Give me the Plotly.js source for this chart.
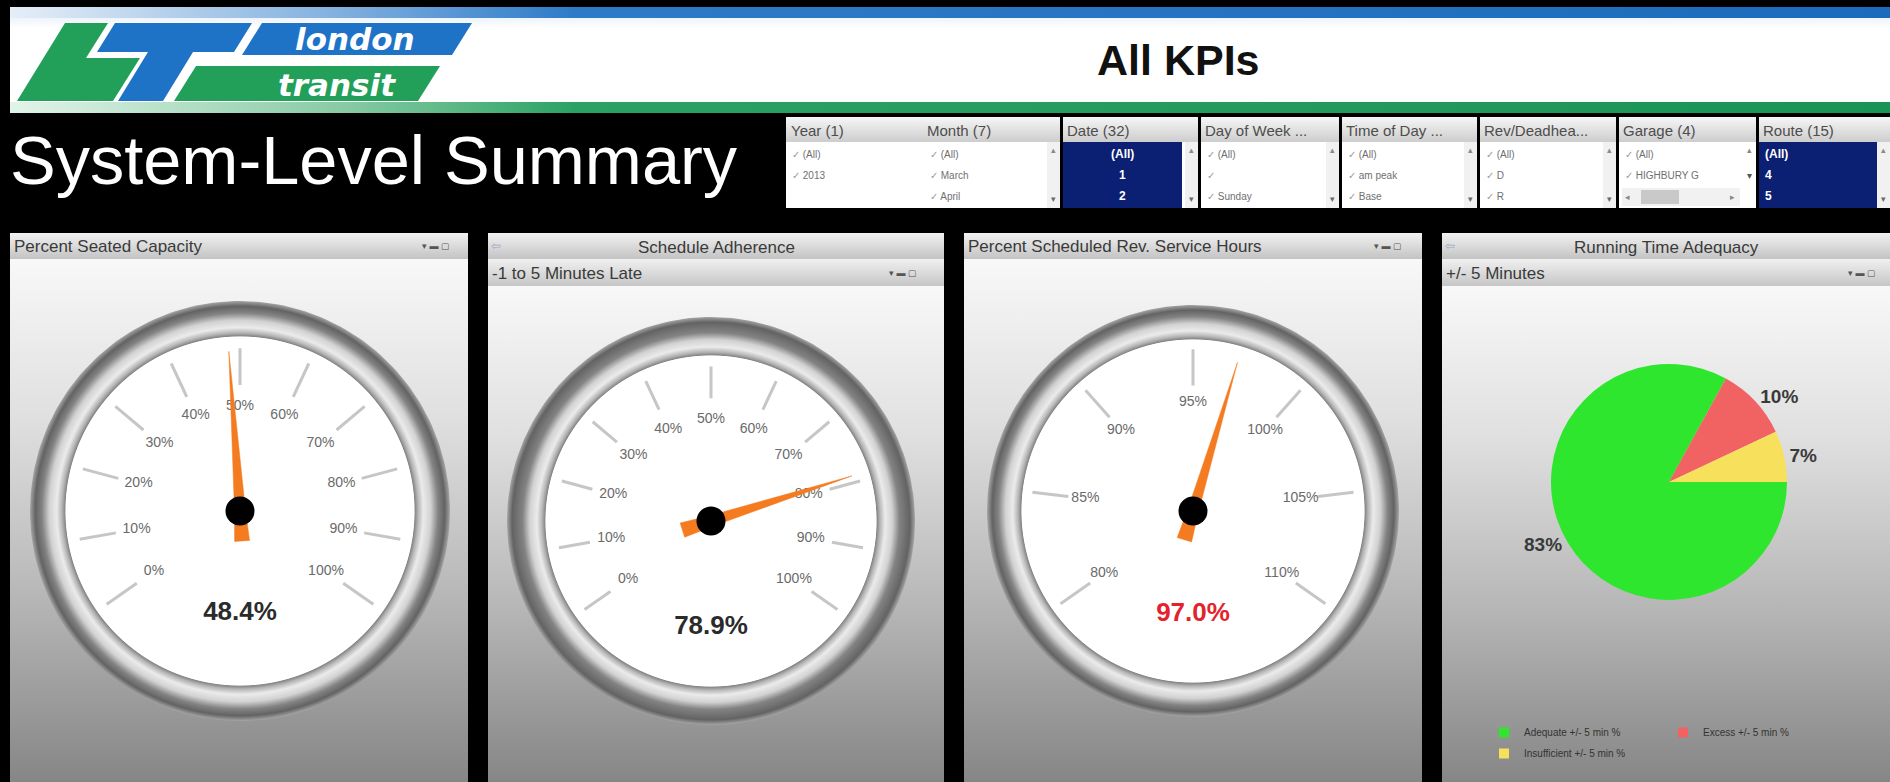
<!DOCTYPE html>
<html>
<head>
<meta charset="utf-8">
<script src="https://cdn.plot.ly/plotly-3.0.1.min.js"></script>
<style>
html,body{margin:0;padding:0;background:#000;overflow:hidden}
#chart{width:1890px;height:782px}
</style>
</head>
<body>
<div id="chart"></div>
<script>
// ---------------- data ----------------
const pageTitle = 'System-Level Summary';
const dashTitle = 'All KPIs';
const logoWords = ['london', 'transit'];

const gaugeTitles = ['Percent Seated Capacity', 'Schedule Adherence', 'Percent Scheduled Rev. Service Hours'];
const gaugeSubtitles = ['', '-1 to 5 Minutes Late', ''];
const gaugeValues = [48.4, 78.9, 97.0];
const seatedTicks = [0, 10, 20, 30, 40, 50, 60, 70, 80, 90, 100];
const adherenceTicks = [0, 10, 20, 30, 40, 50, 60, 70, 80, 90, 100];
const serviceTicks = [80, 85, 90, 95, 100, 105, 110];

const pieTitle = 'Running Time Adequacy';
const pieSubtitle = '+/- 5 Minutes';
const pieLabels = ['Adequate +/- 5 min %', 'Excess +/- 5 min %', 'Insufficient +/- 5 min %'];
const pieValues = [83, 10, 7];

const filterTitles = ['Year (1)', 'Month (7)', 'Date (32)', 'Day of Week ...', 'Time of Day ...', 'Rev/Deadhea...', 'Garage (4)', 'Route (15)'];
const filterItems = [
  ['(All)', '2013'],
  ['(All)', 'March', 'April'],
  ['(All)', '1', '2'],
  ['(All)', '', 'Sunday'],
  ['(All)', 'am peak', 'Base'],
  ['(All)', 'D', 'R'],
  ['(All)', 'HIGHBURY G'],
  ['(All)', '4', '5']
];

// ---------------- helpers ----------------
const W = 1890, H = 782;
const FONT = '"Liberation Sans", Arial, sans-serif';
const traces = [];
const ann = [];

function poly(xs, ys, color, grad) {
  const t = {type: 'scatter', mode: 'lines', x: xs, y: ys, fill: 'toself',
    line: {width: 0, color: 'rgba(0,0,0,0)'}, hoverinfo: 'skip', showlegend: false,
    xaxis: 'x', yaxis: 'y'};
  if (grad) t.fillgradient = grad; else t.fillcolor = color;
  traces.push(t);
}
function rect(x0, y0, x1, y1, color, grad) { poly([x0, x1, x1, x0, x0], [y0, y0, y1, y1, y0], color, grad); }
function circle(cx, cy, r, color, grad) {
  const xs = [], ys = [];
  for (let i = 0; i <= 240; i++) { const a = i * 2 * Math.PI / 240; xs.push(cx + r * Math.cos(a)); ys.push(cy + r * Math.sin(a)); }
  poly(xs, ys, color, grad);
}
// stops given top -> bottom
const vgrad = s => ({type: 'vertical', colorscale: s.map(p => [1 - p[0], p[1]]).reverse()});
const hgrad = s => ({type: 'horizontal', colorscale: s});
function txt(x, y, text, size, color, opts) {
  ann.push(Object.assign({x: x, y: y, xref: 'x', yref: 'y', text: text, showarrow: false,
    font: {size: size, color: color, family: FONT}, xanchor: 'left', yanchor: 'middle'}, opts || {}));
}

// ---------------- page header ----------------
rect(10, 7, 1890, 18, null, hgrad([[0, '#e6eef7'], [0.18, '#7eaede'], [0.3, '#2d7bc8'], [1, '#1c6abb']]));
rect(10, 18, 1890, 102, null, vgrad([[0, '#eef4fa'], [0.12, '#ffffff'], [1, '#ffffff']]));
rect(10, 102, 1890, 113, null, hgrad([[0, '#e2f4e9'], [0.18, '#86caa3'], [0.3, '#2ba263'], [1, '#1a9455']]));

// logo
poly([17, 65, 108, 86, 140, 113, 17], [101, 23, 23, 58, 58, 101, 101], '#22a05a');
poly([115, 252, 234, 193, 163, 118, 148, 97, 115], [23, 23, 52, 52, 101, 101, 52, 52, 23], '#1f73c7');
poly([262, 472, 452, 242, 262], [23, 23, 55, 55, 23], '#1f73c7');
poly([196, 440, 418, 174, 196], [66, 66, 101, 101, 66], '#22a05a');
txt(355, 39, '<b><i>' + logoWords[0] + '</i></b>', 31, '#ffffff', {xanchor: 'center', font: {size: 31, color: '#fff', family: '"DejaVu Sans", sans-serif'}});
txt(337, 85, '<b><i>' + logoWords[1] + '</i></b>', 31, '#ffffff', {xanchor: 'center', font: {size: 31, color: '#fff', family: '"DejaVu Sans", sans-serif'}});

txt(1178, 60, '<b>' + dashTitle + '</b>', 43, '#111111', {xanchor: 'center'});
txt(8, 160, pageTitle, 68.5, '#ffffff');

// ---------------- filter boxes ----------------
const rowsY = [154, 175, 196];
const filterBoxes = [
  {x0: 786, x1: 1060, cols: [{t: 0, tx: 789, ix: 790}, {t: 1, tx: 925, ix: 928}]},
  {x0: 1063, x1: 1198, cols: [{t: 2, tx: 1065, ix: 1122, sel: 'center'}], navy: 1182},
  {x0: 1201, x1: 1339, cols: [{t: 3, tx: 1203, ix: 1205}]},
  {x0: 1342, x1: 1477, cols: [{t: 4, tx: 1344, ix: 1346}]},
  {x0: 1480, x1: 1616, cols: [{t: 5, tx: 1482, ix: 1484}]},
  {x0: 1619, x1: 1756, cols: [{t: 6, tx: 1621, ix: 1623}], hscroll: true},
  {x0: 1759, x1: 1890, cols: [{t: 7, tx: 1761, ix: 1763, sel: 'left'}], navy: 1877}
];
filterBoxes.forEach(b => {
  rect(b.x0, 117, b.x1, 142, null, vgrad([[0, '#f6f6f6'], [1, '#cdcdcd']]));
  rect(b.x0, 142, b.x1, 208, '#ffffff');
  if (b.navy) rect(b.x0, 142, b.navy, 208, '#0b1f73');
  if (!b.hscroll) {
    rect(b.x1 - 13, 142, b.x1, 208, '#f1f1f1');
    txt(b.x1 - 6.5, 150, '▴', 9, '#8a8a8a', {xanchor: 'center'});
    txt(b.x1 - 6.5, 199, '▾', 9, '#6a6a6a', {xanchor: 'center'});
  }
  b.cols.forEach(c => {
    txt(c.tx, 130, filterTitles[c.t], 15, '#4d4d4d');
    filterItems[c.t].forEach((it, r) => {
      if (c.sel === 'center') txt(c.ix, rowsY[r], '<b>' + it + '</b>', 12, '#ffffff', {xanchor: 'center'});
      else if (c.sel === 'left') txt(c.ix, rowsY[r], '<b>' + it + '</b>', 12, '#ffffff');
      else txt(c.ix, rowsY[r], '<span style="color:#9a9a9a">✓</span> ' + it, 10, '#6f6f6f');
    });
  });
  if (b.hscroll) {
    txt(b.x1 - 7, 150, '▴', 9, '#8a8a8a', {xanchor: 'center'});
    txt(b.x1 - 7, 175, '▾', 10, '#555', {xanchor: 'center'});
    rect(b.x0 + 3, 188, b.x1 - 16, 206, '#f1f1f1');
    rect(b.x0 + 22, 190, b.x0 + 60, 204, '#c9c9c9');
    txt(b.x0 + 8, 197, '◂', 9, '#888', {xanchor: 'center'});
    txt(b.x1 - 24, 197, '▸', 9, '#888', {xanchor: 'center'});
  }
});

// ---------------- panels ----------------
const panels = [
  {x0: 10, x1: 468, title: gaugeTitles[0], sub: gaugeSubtitles[0], center: false, icons: 436},
  {x0: 488, x1: 944, title: gaugeTitles[1], sub: gaugeSubtitles[1], center: true, icons: 903},
  {x0: 964, x1: 1422, title: gaugeTitles[2], sub: gaugeSubtitles[2], center: false, icons: 1388},
  {x0: 1442, x1: 1890, title: pieTitle, sub: pieSubtitle, center: true, icons: 1862}
];
panels.forEach(p => {
  rect(p.x0, 233, p.x1, 259, null, vgrad([[0, '#f2f2f2'], [1, '#c3c3c3']]));
  const bodyTop = p.sub ? 286 : 259;
  if (p.sub) rect(p.x0, 259, p.x1, 286, null, vgrad([[0, '#f0f0f0'], [1, '#c6c6c6']]));
  rect(p.x0, bodyTop, p.x1, 782, null, vgrad([[0, '#f8f8f8'], [0.3, '#e0e0e0'], [0.62, '#bababa'], [1, '#868686']]));
  if (p.center) {
    txt((p.x0 + p.x1) / 2, 247, p.title, 17, '#3a3a3a', {xanchor: 'center'});
    txt(p.x0 + 2, 273, p.sub, 17, '#3a3a3a');
    txt(p.x0 + 8, 246, '⇦', 12, '#9aaac8', {xanchor: 'center'});
    txt(p.icons, 273, '▾ ▬ ▢', 9, '#555', {xanchor: 'center'});
  } else {
    txt(p.x0 + 2, 246, p.title, 17, '#3a3a3a');
    txt(p.icons, 246, '▾ ▬ ▢', 9, '#555', {xanchor: 'center'});
  }
});

// ---------------- gauges ----------------
const START = -125, SWEEP = 250;
function angleOf(v, ticks) {
  const lo = ticks[0], hi = ticks[ticks.length - 1];
  return START + SWEEP * (v - lo) / (hi - lo);
}
const gauges = [
  {cx: 240, cy: 511, rf: 175, ro: 210, ticks: seatedTicks, tickR: [0.72, 0.93], labelR: 0.6, valueR: 0.585, vcolor: '#2b2b2b', tip: 160},
  {cx: 711, cy: 521, rf: 166, ro: 204, ticks: adherenceTicks, tickR: [0.74, 0.93], labelR: 0.61, valueR: 0.64, vcolor: '#2b2b2b', tip: 148},
  {cx: 1193, cy: 511, rf: 172, ro: 206, ticks: serviceTicks, tickR: [0.73, 0.94], labelR: 0.63, valueR: 0.6, vcolor: '#e5222b', tip: 155}
];
const polarLayouts = {};
gauges.forEach((g, i) => {
  const f = g.rf / g.ro;
  circle(g.cx, g.cy, g.ro, null, {type: 'radial', colorscale: [
    [0, '#ffffff'], [f - 0.004, '#ffffff'], [f, '#858585'], [f + 0.015, '#b5b5b5'], [f + 0.04, '#ebebeb'],
    [f + 0.075, '#d2d2d2'], [f + 0.11, '#838383'], [0.975, '#636363'], [1, '#a5a5a5']]});
  const key = i === 0 ? 'polar' : 'polar' + (i + 1);
  polarLayouts[key] = {
    domain: {x: [(g.cx - g.rf) / W, (g.cx + g.rf) / W], y: [1 - (g.cy + g.rf) / H, 1 - (g.cy - g.rf) / H]},
    bgcolor: 'rgba(0,0,0,0)',
    radialaxis: {visible: false, range: [0, 1]},
    angularaxis: {visible: false, rotation: 90, direction: 'clockwise'}
  };
  // tick marks
  const tr = [], tt = [];
  g.ticks.forEach(t => { const a = angleOf(t, g.ticks); tr.push(g.tickR[0], g.tickR[1], null); tt.push(a, a, null); });
  traces.push({type: 'scatterpolar', subplot: key, r: tr, theta: tt, mode: 'lines',
    line: {color: '#c6c6c6', width: 3}, hoverinfo: 'skip', showlegend: false});
  // tick labels
  traces.push({type: 'scatterpolar', subplot: key, mode: 'text',
    r: g.ticks.map(() => g.labelR), theta: g.ticks.map(t => angleOf(t, g.ticks)),
    text: g.ticks.map(t => t + '%'), textfont: {size: 14, color: '#6a6a6a', family: FONT},
    hoverinfo: 'skip', showlegend: false, cliponaxis: false});
  // needle
  const th = angleOf(gaugeValues[i], g.ticks);
  const pts = [[g.tip, 0], [0, 5.5], [-30, 7.5], [-30, -7.5], [0, -5.5], [g.tip, 0]];
  traces.push({type: 'scatterpolar', subplot: key, mode: 'lines', fill: 'toself',
    r: pts.map(p => Math.hypot(p[0], p[1]) / g.rf),
    theta: pts.map(p => th + Math.atan2(p[1], p[0]) * 180 / Math.PI),
    fillcolor: '#f47b20', line: {width: 0.5, color: '#f47b20'}, hoverinfo: 'skip', showlegend: false});
  // hub
  traces.push({type: 'scatterpolar', subplot: key, mode: 'markers', r: [0], theta: [th],
    marker: {size: 29, color: '#000000'}, hoverinfo: 'skip', showlegend: false});
  // value
  traces.push({type: 'scatterpolar', subplot: key, mode: 'text', r: [g.valueR], theta: [180],
    text: ['<b>' + gaugeValues[i].toFixed(1) + '%</b>'],
    textfont: {size: 26, color: g.vcolor, family: FONT}, hoverinfo: 'skip', showlegend: false, cliponaxis: false});
});

// ---------------- pie ----------------
const pieColors = ['#2ee62e', '#f16262', '#f7e05c'];
const pc = {cx: 1669, cy: 482, r: 118};
traces.push({type: 'pie', labels: pieLabels, values: pieValues, sort: false,
  direction: 'clockwise', rotation: 90,
  marker: {colors: pieColors, line: {width: 0}},
  texttemplate: '<b>%{percent:.0%}</b>', textposition: 'outside',
  textfont: {size: 19, color: '#3a3a3a', family: FONT},
  domain: {x: [(pc.cx - pc.r) / W, (pc.cx + pc.r) / W], y: [1 - (pc.cy + pc.r) / H, 1 - (pc.cy - pc.r) / H]},
  hoverinfo: 'skip', showlegend: false});
// legend entries for the pie slices (two rows as in the dashboard)
pieLabels.forEach((lab, i) => {
  traces.push({type: 'scatter', x: [null], y: [null], mode: 'markers', name: lab,
    marker: {symbol: 'square', size: 10, color: pieColors[i]},
    legend: i < 2 ? 'legend' : 'legend2', showlegend: true, hoverinfo: 'skip', xaxis: 'x', yaxis: 'y'});
});

// ---------------- layout ----------------
const legendBase = {orientation: 'h', x: 1484 / W, xanchor: 'left', yanchor: 'top',
  font: {size: 10, color: '#333', family: FONT}, bgcolor: 'rgba(0,0,0,0)',
  itemclick: false, itemdoubleclick: false, entrywidth: 134, itemwidth: 30};
const layout = Object.assign({
  width: W, height: H, margin: {l: 0, r: 0, t: 0, b: 0, autoexpand: false},
  paper_bgcolor: '#000000', plot_bgcolor: 'rgba(0,0,0,0)',
  font: {family: FONT},
  xaxis: {range: [0, W], visible: false, fixedrange: true},
  yaxis: {range: [H, 0], visible: false, fixedrange: true},
  hovermode: false,
  showlegend: true,
  legend: Object.assign({}, legendBase, {y: 1 - 718 / H}),
  legend2: Object.assign({}, legendBase, {y: 1 - 739 / H}),
  annotations: ann
}, polarLayouts);

Plotly.newPlot('chart', traces, layout, {staticPlot: true, displayModeBar: false});
</script>
</body>
</html>
